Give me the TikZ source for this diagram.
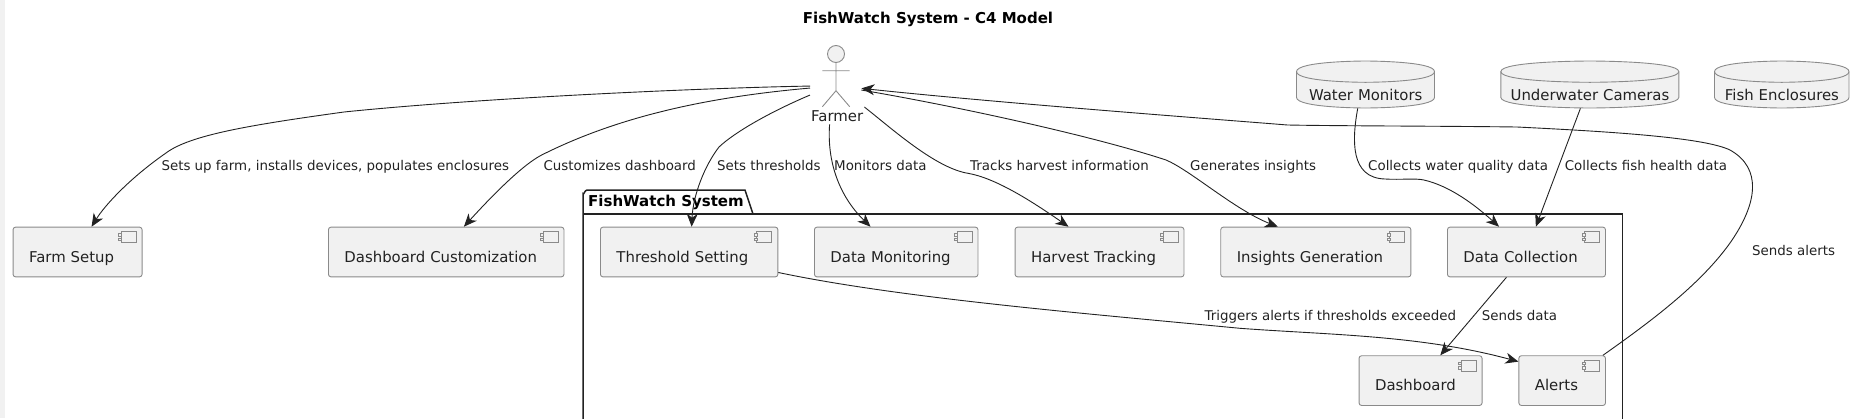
\documentclass[tikz,border=0pt]{standalone}
\usepackage{fontspec}
\setmainfont{DejaVu Sans}
\usetikzlibrary{arrows.meta,backgrounds}
\definecolor{boxfill}{HTML}{F1F1F1}
\definecolor{boxline}{HTML}{8A8A8A}
\definecolor{inktext}{HTML}{222222}
\tikzset{
  >={Stealth[length=13pt,width=11pt,inset=4pt]},
  comp/.style={draw=boxline,fill=boxfill,rounded corners=2.5pt,line width=0.9pt,inner sep=0pt,anchor=north west,align=left,
    text=inktext,font=\fontsize{14.9}{17}\selectfont,text height=35pt,text depth=14.7pt,execute at begin node={\hspace*{16pt}}},
  dbase/.style={inner sep=0pt,anchor=north west,align=center,text=inktext,font=\fontsize{14.9}{17}\selectfont,text height=39.5pt,text depth=7.5pt},
  edgelab/.style={anchor=base west,inner sep=0pt,text=inktext,font=\fontsize{13.4}{15}\selectfont},
  link/.style={->,draw=inktext,line width=0.9pt},
  actorline/.style={draw=boxline,line width=0.9pt}
}
\begin{document}
\begin{tikzpicture}[x=1pt,y=-1pt]
  \useasboundingbox (0,0) rectangle (1858,418);
  \fill[boxfill] (0,0) rectangle (4.6,418);

  \node[inner sep=0pt,font=\bfseries\fontsize{15}{17}\selectfont] (title) at (928,19.5) {FishWatch System - C4 Model};

  % package frame runs off the bottom
  \draw[line width=1.5pt,draw=inktext] (583,425) -- (583,194) to[out=-90,in=180] (587,190) -- (745,190) -- (753,214);
  \draw[line width=1.5pt,draw=inktext] (583,214) -- (1622.4,214) -- (1622.4,425);
  \node[anchor=base west,inner sep=0pt,font=\bfseries\fontsize{15}{17}\selectfont] (pkg) at (588,206) {FishWatch System};

  % actor
  \node[inner sep=0pt,anchor=north west,text width=54pt,align=center,text=inktext,text height=75.8pt,text depth=2.5pt,font=\fontsize{14.9}{17}\selectfont] (farmer) at (810,45.7) {Farmer};
  \draw[actorline,fill=boxfill] (836,54) circle (8.5);
  \draw[actorline] (836,62.5) -- (836,90.7) (822.4,70.7) -- (849.7,70.7) (822.4,106.7) -- (836,90.7) -- (849.7,106.7);

  \node[comp,text width=129pt] (setup) at (12.6,226.7) {Farm Setup};
  \node[comp,text width=235.5pt] (custom) at (328,226.7) {Dashboard Customization};
  \node[comp,text width=177.4pt] (threshold) at (600,226.7) {Threshold Setting};
  \node[comp,text width=163.5pt] (monitoring) at (814,226.7) {Data Monitoring};
  \node[comp,text width=168.9pt] (harvest) at (1014.6,226.7) {Harvest Tracking};
  \node[comp,text width=190.1pt] (insights) at (1220.3,226.7) {Insights Generation};
  \node[comp,text width=158pt] (collection) at (1447,226.7) {Data Collection};
  \node[comp,text width=123pt] (dashboard) at (1358.6,355.3) {Dashboard};
  \node[comp,text width=86.6pt] (alerts) at (1518.4,355.3) {Alerts};

  \foreach \n in {setup,custom,threshold,monitoring,harvest,insights,collection,dashboard,alerts} {
    \begin{scope}[shift={(\n.north east)},draw=boxline,line width=0.8pt,fill=boxfill]
      \draw (-21.5,5) rectangle (-6.5,16);
      \filldraw (-24,6.6) rectangle (-20.8,9.3);
      \filldraw (-24,11.3) rectangle (-20.8,14);
    \end{scope}
  }

  \node[dbase,text width=138pt] (water) at (1296.5,61) {Water Monitors};
  \node[dbase,text width=178pt] (cameras) at (1500.8,61) {Underwater Cameras};
  \node[dbase,text width=134.5pt] (pens) at (1714.5,61) {Fish Enclosures};

  \begin{scope}[on background layer]
    \foreach \n/\w in {water/138,cameras/178,pens/134.5} {
      \begin{scope}[shift={(\n.north west)}]
        \draw[actorline,fill=boxfill] (0,10.6) .. controls (0,0) and (\w/2,0) .. (\w/2,0) .. controls (\w/2,0) and (\w,0) .. (\w,10.6) -- (\w,36.4)
          .. controls (\w,47) and (\w/2,47) .. (\w/2,47) .. controls (\w/2,47) and (0,47) .. (0,36.4) -- cycle;
        \draw[actorline] (0,10.6) .. controls (0,21.3) and (\w/2,21.3) .. (\w/2,21.3) .. controls (\w/2,21.3) and (\w,21.3) .. (\w,10.6);
      \end{scope}
    }
  \end{scope}

  \node[edgelab] (lab1) at (161.3,170) {Sets up farm, installs devices, populates enclosures};
  \node[edgelab] (lab2) at (543.3,170) {Customizes dashboard};
  \node[edgelab] (lab3) at (717,170) {Sets thresholds};
  \node[edgelab] (lab4) at (834,170) {Monitors data};
  \node[edgelab] (lab5) at (970,170) {Tracks harvest information};
  \node[edgelab] (lab6) at (1190,170) {Generates insights};
  \node[edgelab] (lab7) at (1368,170) {Collects water quality data};
  \node[edgelab] (lab8) at (1564.6,170) {Collects fish health data};
  \node[edgelab] (lab9) at (1752,255.5) {Sends alerts};
  \node[edgelab] (lab10) at (1204.4,320.5) {Triggers alerts if thresholds exceeded};
  \node[edgelab] (lab11) at (1481.6,320.5) {Sends data};

  \draw[link] ([shift={(0,1)}]farmer.west) .. controls (700,88) and (480,98) .. (344,112) .. controls (250,125) and (190,135) .. (166,153) .. controls (130,178) and (105,205) .. ([shift={(14,0)}]setup.north);
  \draw[link] ([shift={(0,3)}]farmer.west) .. controls (720,96) and (625,113) .. (541.7,155) .. controls (522,165) and (490,198) .. ([shift={(17.7,0)}]custom.north);
  \draw[link] ([shift={(0,10)}]farmer.west) .. controls (770,112) and (735,132) .. (719,147) .. controls (705,165) and (693,195) .. ([shift={(2.5,0)}]threshold.north);
  \draw[link] ([shift={(-7.6,0)}]farmer.south) .. controls (827,160) and (838,195) .. ([shift={(-25.7,0)}]monitoring.north);
  \draw[link] ([shift={(0,22)}]farmer.east) .. controls (890,127) and (935,168) .. (968,173.3) .. controls (995,178) and (1030,200) .. ([shift={(-31,0)}]harvest.north);
  \draw[link] ([shift={(-3,5)}]farmer.east) .. controls (950,105) and (1090,135) .. (1166,160) .. controls (1190,170) and (1235,210) .. ([shift={(-38,0)}]insights.north);
  \draw[link] ([shift={(-3,0)}]alerts.north east) .. controls (1650,322) and (1700,285) .. (1730,243) .. controls (1758,203) and (1762,168) .. (1730,150) .. controls (1705,138) and (1620,132) .. (1516.8,127) .. controls (1440,126) and (1340,126) .. (1287.5,125) .. controls (1200,118) and (1000,103) .. ([shift={(-3,3.3)}]farmer.east);
  \draw[link] ([shift={(0,20.5)}]threshold.east) .. controls (900,298) and (1080,313) .. (1240,328.3) .. controls (1330,335) and (1420,335) .. ([shift={(0,-19)}]alerts.west);
  \draw[link] ([shift={(-8,0)}]water.south) .. controls (1352,140) and (1350,178) .. (1385,179) .. controls (1400,180) and (1415,178) .. (1423.9,180) .. controls (1450,186) and (1475,205) .. ([shift={(-27.4,0)}]collection.north);
  \draw[link] ([shift={(-9.6,0)}]cameras.south) -- ([shift={(9.4,0)}]collection.north);
  \draw[link] ([shift={(-20,0)}]collection.south) -- ([shift={(19.7,0)}]dashboard.north);
\end{tikzpicture}
\end{document}
